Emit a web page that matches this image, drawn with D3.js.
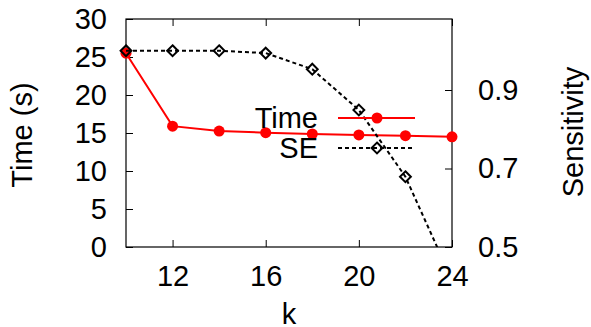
<!DOCTYPE html>
<html>
<head>
<meta charset="utf-8">
<script src="https://cdn.jsdelivr.net/npm/d3@7"></script>
<style>
  body { margin: 0; background: #fff; }
  text { font-family: "Liberation Sans", Arial, sans-serif; }
</style>
</head>
<body>
<div id="chart"></div>
<script>
// values
var kValues   = [10, 12, 14, 16, 18, 20, 22, 24];
var timeVals  = [25.5, 15.9, 15.26, 15.04, 14.87, 14.74, 14.65, 14.5];
var seVals    = [1.0, 1.0, 1.0, 0.994, 0.953, 0.849, 0.679, 0.416];
var xTicks    = [12, 16, 20, 24];
var yTicks    = [0, 5, 10, 15, 20, 25, 30];
var y2Ticks   = [0.5, 0.7, 0.9];

var W = 591, H = 327;
var margin = {top: 19, left: 126, right: 139, bottom: 80};
var fs = 29;

var svg = d3.select("#chart").append("svg")
  .attr("width", W).attr("height", H);

var pTop = margin.top, pBottom = H - margin.bottom,
    pLeft = margin.left, pRight = W - margin.right;

var x = d3.scaleLinear().domain([10, 24]).range([pLeft, pRight]);
var y = d3.scaleLinear().domain([0, 30]).range([pBottom, pTop]);
var y2 = d3.scaleLinear().domain([0.5, 0.9]).range([pBottom, 90]);

svg.append("clipPath").attr("id", "clip")
  .append("rect").attr("x", pLeft).attr("y", pTop)
  .attr("width", pRight - pLeft).attr("height", pBottom - pTop);

// axes: ticks drawn inward, mirrored x ticks on top
var tickLen = 7;
function styleAxis(g) {
  g.select(".domain").remove();
  g.selectAll("line").attr("stroke", "#000").attr("stroke-width", 1);
  g.selectAll("text").attr("font-size", fs).attr("fill", "#000");
}

svg.append("g").attr("transform", `translate(0,${pBottom})`)
  .call(d3.axisBottom(x).tickValues(xTicks).tickSizeInner(-tickLen).tickSizeOuter(0).tickPadding(18))
  .call(styleAxis);

svg.append("g").attr("transform", `translate(0,${pTop})`)
  .call(d3.axisTop(x).tickValues(xTicks).tickSizeInner(-tickLen).tickSizeOuter(0).tickFormat(""))
  .call(styleAxis);

svg.append("g").attr("transform", `translate(${pLeft},0)`)
  .call(d3.axisLeft(y).tickValues(yTicks).tickSizeInner(-tickLen).tickSizeOuter(0).tickPadding(19))
  .call(styleAxis);

svg.append("g").attr("transform", `translate(${pRight},0)`)
  .call(d3.axisRight(y2).tickValues(y2Ticks).tickFormat(d3.format(".1f"))
    .tickSizeInner(-tickLen).tickSizeOuter(0).tickPadding(26))
  .call(styleAxis);

// frame
svg.append("rect")
  .attr("x", pLeft).attr("y", pTop)
  .attr("width", pRight - pLeft).attr("height", pBottom - pTop)
  .attr("fill", "none").attr("stroke", "#000").attr("stroke-width", 1.2);

// axis titles
svg.append("text")
  .attr("transform", `translate(32,135) rotate(-90)`)
  .attr("text-anchor", "middle").attr("font-size", fs)
  .text("Time (s)");

svg.append("text")
  .attr("transform", `translate(583,132) rotate(-90)`)
  .attr("text-anchor", "middle").attr("font-size", fs)
  .text("Sensitivity");

svg.append("text")
  .attr("x", 289).attr("y", 324)
  .attr("text-anchor", "middle").attr("font-size", fs)
  .text("k");

// Time series
var timeLine = d3.line().x((d, i) => x(kValues[i])).y(d => y(d));
svg.append("path")
  .datum(timeVals)
  .attr("d", timeLine)
  .attr("fill", "none").attr("stroke", "#f00").attr("stroke-width", 2);

svg.selectAll(".tdot").data(timeVals).enter().append("circle")
  .attr("class", "tdot")
  .attr("cx", (d, i) => x(kValues[i])).attr("cy", d => y(d))
  .attr("r", 5.5).attr("fill", "#f00");

// SE series (on right axis, clipped to the plot box)
var seLine = d3.line().x((d, i) => x(kValues[i])).y(d => y2(d));
svg.append("path")
  .datum(seVals)
  .attr("d", seLine)
  .attr("clip-path", "url(#clip)")
  .attr("fill", "none").attr("stroke", "#000").attr("stroke-width", 2)
  .attr("stroke-dasharray", "4,3");

var diamond = d3.symbol().type(d3.symbolDiamond2).size(75);
svg.selectAll(".sedot").data(seVals.filter(d => d >= 0.5)).enter().append("path")
  .attr("class", "sedot")
  .attr("d", diamond)
  .attr("transform", (d, i) => `translate(${x(kValues[i])},${y2(d)})`)
  .attr("fill", "none").attr("stroke", "#000").attr("stroke-width", 2);

// legend
var lg = svg.append("g");
lg.append("text").attr("x", 318).attr("y", 118).attr("dy", "0.35em")
  .attr("text-anchor", "end").attr("font-size", fs).text("Time");
lg.append("line").attr("x1", 338).attr("x2", 415).attr("y1", 118).attr("y2", 118)
  .attr("stroke", "#f00").attr("stroke-width", 2);
lg.append("circle").attr("cx", 377).attr("cy", 118).attr("r", 5.5).attr("fill", "#f00");

lg.append("text").attr("x", 318).attr("y", 148).attr("dy", "0.35em")
  .attr("text-anchor", "end").attr("font-size", fs).text("SE");
lg.append("line").attr("x1", 338).attr("x2", 415).attr("y1", 148).attr("y2", 148)
  .attr("stroke", "#000").attr("stroke-width", 2).attr("stroke-dasharray", "4,3");
lg.append("path").attr("d", diamond)
  .attr("transform", "translate(377,148)")
  .attr("fill", "none").attr("stroke", "#000").attr("stroke-width", 2);
</script>
</body>
</html>
